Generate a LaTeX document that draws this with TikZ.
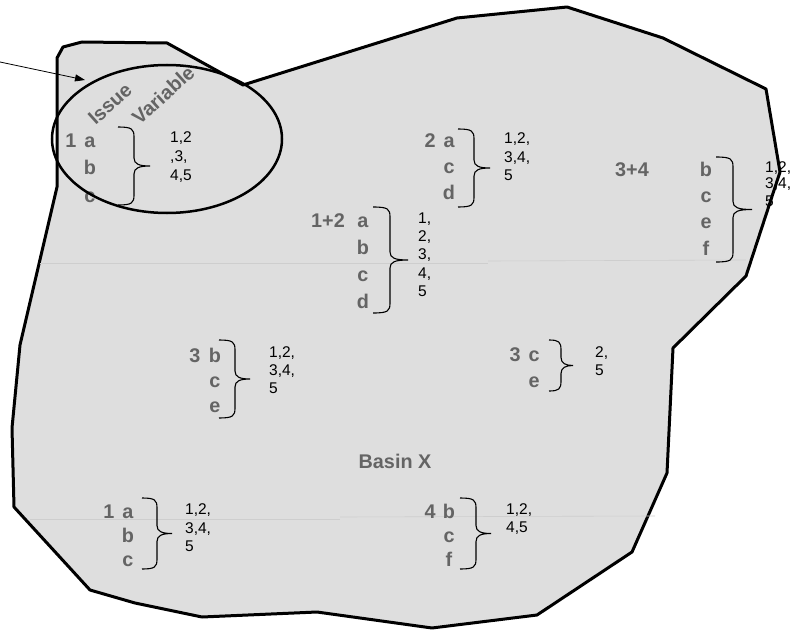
\documentclass[tikz,border=0pt]{standalone}
\usepackage{fontspec}
\setmainfont{Liberation Sans}[BoldFont={Liberation Sans Bold}]
\usetikzlibrary{arrows.meta}
\definecolor{basinfill}{RGB}{222,222,222}
\definecolor{lblgray}{RGB}{100,100,100}
\definecolor{faintline}{RGB}{206,206,206}
% right curly brace: x0 (ends), x1 (vertical), x2 (tip), ytop, ybot
\newcommand\grpbr[5]{%
  \draw[bracestroke] (#1,#4) .. controls ({#2-2},#4) and (#2,{#4+2}) .. (#2,{#4+10})
    -- (#2,{(#4+#5)/2-8}) .. controls (#2,{(#4+#5)/2-2}) and ({#2+5},{(#4+#5)/2}) .. (#3,{(#4+#5)/2})
    .. controls ({#2+5},{(#4+#5)/2}) and (#2,{(#4+#5)/2+2}) .. (#2,{(#4+#5)/2+8})
    -- (#2,{#5-10}) .. controls (#2,{#5-2}) and ({#2-2},#5) .. (#1,#5);}
\begin{document}
\begin{tikzpicture}[x=1pt,y=-1pt,
  lbl/.style={font=\fontsize{19.8}{22}\selectfont\bfseries, text=lblgray, inner sep=0pt, anchor=base},
  num/.style={font=\fontsize{15.5}{17}\selectfont, text=black, inner sep=0pt, anchor=base west},
  bracestroke/.style={draw=black, line width=1.1pt},
  basinline/.style={line width=3pt, line join=round},
  faint/.style={draw=faintline, line width=0.6pt}]
\useasboundingbox (0,0) rectangle (797,631);
% basin outline
\filldraw[fill=basinfill, draw=black, basinline]
  (57,187) -- (57,58) -- (63,47) -- (82,42) -- (167,43) -- (243,85) -- (457,18)
  -- (567,7) -- (663,38) -- (766,89) -- (780,172) -- (746,276) -- (673,348)
  -- (667,473) -- (632,552) -- (537,615) -- (432,628) -- (317,612) -- (202,617)
  -- (135,603) -- (90,590) -- (14,507) -- (12,428) -- (20,345) -- cycle;
% faint horizontal lines
\draw[faint] (40,263) -- (488,263);
\draw[faint] (488,261) -- (746,260);
\draw[faint] (30,519) -- (340,519);
\draw[faint] (340,517) -- (655,516);
% group 1 (in ellipse)
\node[lbl] (g1k) at (71,148) {1};
\node[lbl] (g1a) at (90,148) {a};
\node[lbl] (g1b) at (90,175) {b};
\node[lbl] (g1c) at (90,202) {c};
\node[num] (g1n1) at (170,143) {1,2};
\node[num] (g1n2) at (170,162) {,3,};
\node[num] (g1n3) at (170,180) {4,5};
\grpbr{118}{134}{150}{127}{205}
% group 2
\node[lbl] (g2k) at (430,148) {2};
\node[lbl] (g2a) at (449,148) {a};
\node[lbl] (g2c) at (449,174) {c};
\node[lbl] (g2d) at (449,200) {d};
\node[num] (g2n1) at (504,144) {1,2,};
\node[num] (g2n2) at (504,163) {3,4,};
\node[num] (g2n3) at (504,181) {5};
\grpbr{458}{474}{490}{129}{207}
% group 1+2
\node[lbl] (g12k) at (328,227) {1+2};
\node[lbl] (g12a) at (363,227) {a};
\node[lbl] (g12b) at (363,254) {b};
\node[lbl] (g12c) at (363,281) {c};
\node[lbl] (g12d) at (363,308) {d};
\node[num] (g12n1) at (418,223) {1,};
\node[num] (g12n2) at (418,241) {2,};
\node[num] (g12n3) at (418,259) {3,};
\node[num] (g12n4) at (418,278) {4,};
\node[num] (g12n5) at (418,296) {5};
\grpbr{373}{390}{408}{207}{313}
% group 3+4
\node[lbl] (g34k) at (632,177) {3+4};
\node[lbl] (g34b) at (706,177) {b};
\node[lbl] (g34c) at (706,202) {c};
\node[lbl] (g34e) at (706,228) {e};
\node[lbl] (g34f) at (706,255) {f};
\node[num] (g34n1) at (765,172) {1,2,};
\node[num] (g34n2) at (765,189) {3,4,};
\node[num] (g34n3) at (765,206) {5};
\grpbr{716}{733}{752}{157}{262}
% group 3 b
\node[lbl] (g3bk) at (195,362) {3};
\node[lbl] (g3bb) at (215,362) {b};
\node[lbl] (g3bc) at (215,387) {c};
\node[lbl] (g3be) at (215,412) {e};
\node[num] (g3bn1) at (269,357) {1,2,};
\node[num] (g3bn2) at (269,375) {3,4,};
\node[num] (g3bn3) at (269,393) {5};
\grpbr{219}{235}{250}{340}{418}
% group 3 c
\node[lbl] (g3ck) at (515,361) {3};
\node[lbl] (g3cc) at (534,361) {c};
\node[lbl] (g3ce) at (534,387) {e};
\node[num] (g3cn1) at (595,357) {2,};
\node[num] (g3cn2) at (595,375) {5};
\grpbr{549}{561}{573}{340}{391}
% basin name
\node[lbl] (basin) at (395,468) {Basin X};
% group 1 a (bottom)
\node[lbl] (g1lk) at (109,518) {1};
\node[lbl] (g1la) at (128,518) {a};
\node[lbl] (g1lb) at (128,542) {b};
\node[lbl] (g1lc) at (128,566) {c};
\node[num] (g1ln1) at (185,514) {1,2,};
\node[num] (g1ln2) at (185,533) {3,4,};
\node[num] (g1ln3) at (185,551) {5};
\grpbr{142}{157}{172}{498}{569}
% group 4 b
\node[lbl] (g4k) at (430,518) {4};
\node[lbl] (g4b) at (449,518) {b};
\node[lbl] (g4c) at (449,542) {c};
\node[lbl] (g4f) at (449,566) {f};
\node[num] (g4n1) at (506,514) {1,2,};
\node[num] (g4n2) at (506,532) {4,5};
\grpbr{460}{476}{491}{498}{569}
% legend ellipse
\node[lbl, anchor=center, rotate=42] (issue) at (110,104) {Issue};
\node[lbl, anchor=center, rotate=42] (variable) at (163,95) {Variable};
\draw[line width=2.5pt] (167,139) ellipse [x radius=115, y radius=74];
% pointer arrow
\coordinate (arrowfrom) at (0,62);
\coordinate (arrowto) at (85,80);
\draw[line width=0.8pt, -{Triangle[length=10pt,width=7pt]}] (arrowfrom) -- (arrowto);
\end{tikzpicture}
\end{document}
